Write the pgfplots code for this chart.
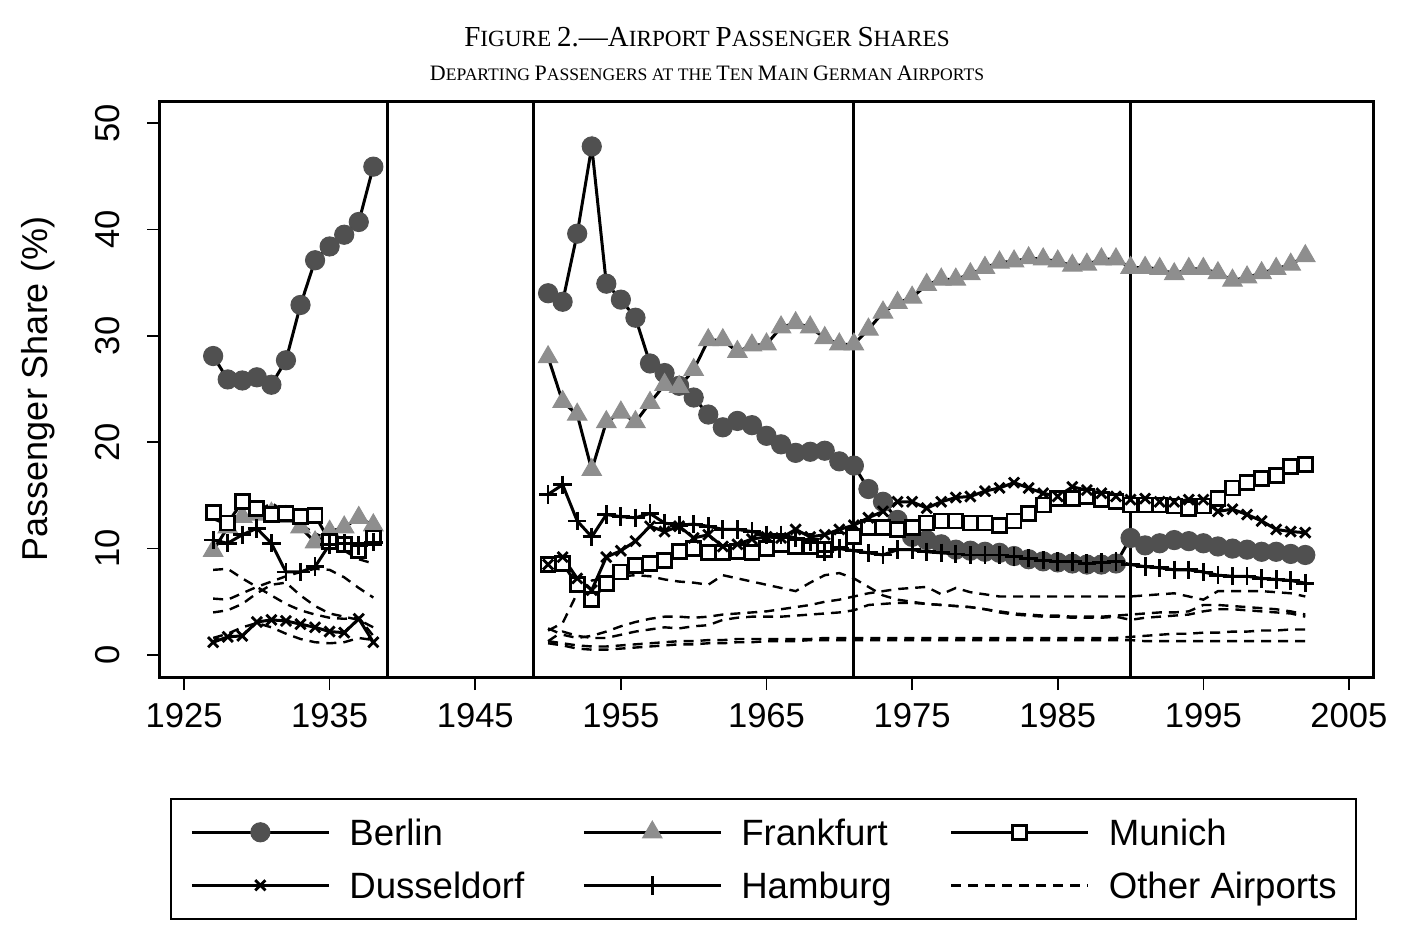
\documentclass[border=0pt]{standalone}
\usepackage{fontspec}
\setmainfont{Liberation Sans}
\newfontfamily\seriffont{Liberation Serif}
\usepackage{pgfplots}
\pgfplotsset{compat=1.18}
\definecolor{bgray}{HTML}{505050}
\definecolor{fgray}{HTML}{8E8E8E}
\begin{document}
\begin{tikzpicture}
\path[use as bounding box] (-80pt,-133.5pt) rectangle (627pt,338.5pt);
\begin{axis}[
  at={(0pt,0pt)}, anchor=south west,
  scale only axis, width=606.5pt, height=288pt,
  xmin=1923.35, xmax=2006.65, ymin=-2.07, ymax=52.07,
  xtick={1925,1935,...,2005}, ytick={0,10,...,50},
  tick align=outside, major tick length=6.5pt,
  xtick pos=left, ytick pos=left,
  tick style={line width=0.8pt, black},
  axis line style={line width=1.5pt},
  /pgf/number format/assume math mode=true,
  /pgf/number format/1000 sep={},
  ticklabel style={font=\fontsize{17.3}{17.3}\selectfont, inner sep=0pt},
  xticklabel shift=6.5pt,
  yticklabel style={rotate=90, anchor=south},
  yticklabel shift=13.5pt,
  unbounded coords=jump,
  legend columns=3,
  legend cell align=left,
  legend style={at={(0.5,0)}, anchor=north, yshift=-60.5pt, xshift=-1.5pt,
    draw=black, line width=1pt, fill=white,
    font=\fontsize{18.3}{18.3}\selectfont,
    inner xsep=9.5pt, inner ysep=10pt,
    row sep=13.2pt,
    nodes={inner sep=0pt, text height=13.3pt, text depth=0pt},
    /tikz/every even column/.append style={column sep=29pt},
    /tikz/every odd column/.append style={column sep=9.5pt}},
  legend image code/.code={\draw[mark repeat=2,mark phase=2,#1] plot coordinates {(0pt,0pt) (34.25pt,0pt) (68.5pt,0pt)};},
]
% Berlin
\addplot[black, line width=1.5pt, mark=*, mark size=4.8pt, mark options={fill=bgray, draw=bgray, line width=0.5pt}] coordinates {
(1927,28.1)(1928,25.9)(1929,25.8)(1930,26.1)(1931,25.4)(1932,27.7)(1933,32.9)(1934,37.1)(1935,38.4)(1936,39.5)(1937,40.7)(1938,45.9)
(1944,nan)
(1950,34.0)(1951,33.2)(1952,39.6)(1953,47.8)(1954,34.9)(1955,33.4)(1956,31.7)(1957,27.4)(1958,26.5)(1959,25.3)(1960,24.2)
(1961,22.6)(1962,21.4)(1963,22.0)(1964,21.6)(1965,20.6)(1966,19.8)(1967,19.0)(1968,19.1)(1969,19.2)(1970,18.2)
(1971,17.8)(1972,15.6)(1973,14.4)(1974,12.7)(1975,11.1)(1976,10.8)(1977,10.4)(1978,9.9)(1979,9.8)(1980,9.7)
(1981,9.6)(1982,9.3)(1983,9.0)(1984,8.8)(1985,8.7)(1986,8.6)(1987,8.5)(1988,8.5)(1989,8.6)(1990,11.0)
(1991,10.3)(1992,10.5)(1993,10.8)(1994,10.7)(1995,10.5)(1996,10.2)(1997,10.0)(1998,9.9)(1999,9.7)(2000,9.7)(2001,9.5)(2002,9.4)};
\addlegendentry{Berlin}
% Frankfurt
\addplot[black, line width=1.5pt, mark=triangle*, mark size=5.6pt, mark options={fill=fgray, draw=fgray, line width=0.5pt}] coordinates {
(1927,9.8)(1928,12.0)(1929,13.0)(1930,13.2)(1931,13.3)(1932,13.0)(1933,12.0)(1934,10.6)(1935,11.6)(1936,12.0)(1937,12.9)(1938,12.2)
(1944,nan)
(1950,28.0)(1951,23.8)(1952,22.6)(1953,17.4)(1954,21.9)(1955,22.8)(1956,21.9)(1957,23.7)(1958,25.4)(1959,25.2)(1960,26.8)
(1961,29.6)(1962,29.6)(1963,28.5)(1964,29.1)(1965,29.2)(1966,30.8)(1967,31.2)(1968,30.8)(1969,29.8)(1970,29.2)
(1971,29.2)(1972,30.6)(1973,32.2)(1974,33.1)(1975,33.6)(1976,34.8)(1977,35.3)(1978,35.3)(1979,35.8)(1980,36.4)
(1981,36.9)(1982,37.0)(1983,37.3)(1984,37.2)(1985,37.0)(1986,36.6)(1987,36.7)(1988,37.2)(1989,37.2)(1990,36.4)
(1991,36.4)(1992,36.3)(1993,35.8)(1994,36.3)(1995,36.3)(1996,35.9)(1997,35.2)(1998,35.5)(1999,35.9)(2000,36.3)(2001,36.7)(2002,37.5)};
\addlegendentry{Frankfurt}
% Munich
\addplot[black, line width=1.5pt, mark=square*, mark size=3.5pt, mark options={fill=white, draw=black, line width=1.4pt}] coordinates {
(1927,13.4)(1928,12.4)(1929,14.4)(1930,13.8)(1931,13.2)(1932,13.3)(1933,13.0)(1934,13.1)(1935,10.7)(1936,10.4)(1937,9.8)(1938,11.0)
(1944,nan)
(1950,8.5)(1951,8.6)(1952,6.6)(1953,5.2)(1954,6.7)(1955,7.8)(1956,8.4)(1957,8.6)(1958,8.9)(1959,9.7)(1960,10.0)
(1961,9.6)(1962,9.6)(1963,9.7)(1964,9.6)(1965,10.0)(1966,10.4)(1967,10.2)(1968,10.2)(1969,9.9)(1970,10.8)
(1971,11.1)(1972,12.0)(1973,12.0)(1974,11.8)(1975,12.0)(1976,12.4)(1977,12.6)(1978,12.6)(1979,12.4)(1980,12.4)
(1981,12.2)(1982,12.6)(1983,13.3)(1984,14.1)(1985,14.7)(1986,14.7)(1987,14.9)(1988,14.6)(1989,14.4)(1990,14.1)
(1991,14.1)(1992,14.1)(1993,14.0)(1994,13.8)(1995,14.0)(1996,14.7)(1997,15.7)(1998,16.2)(1999,16.6)(2000,16.9)(2001,17.7)(2002,17.9)};
\addlegendentry{Munich}
% Dusseldorf
\addplot[black, line width=1.5pt, mark=x, mark size=3.6pt, mark options={line width=1.4pt}] coordinates {
(1927,1.2)(1928,1.7)(1929,1.8)(1930,3.1)(1931,3.3)(1932,3.2)(1933,2.9)(1934,2.6)(1935,2.2)(1936,2.1)(1937,3.4)(1938,1.2)
(1944,nan)
(1950,8.5)(1951,9.2)(1952,7.2)(1953,6.1)(1954,9.2)(1955,9.8)(1956,10.7)(1957,12.1)(1958,11.6)(1959,12.1)(1960,11.0)
(1961,11.3)(1962,10.2)(1963,10.4)(1964,10.9)(1965,11.1)(1966,11.0)(1967,11.8)(1968,11.1)(1969,11.3)(1970,11.8)
(1971,12.2)(1972,12.9)(1973,13.5)(1974,14.4)(1975,14.4)(1976,13.8)(1977,14.4)(1978,14.8)(1979,14.9)(1980,15.4)
(1981,15.7)(1982,16.2)(1983,15.7)(1984,15.2)(1985,14.9)(1986,15.8)(1987,15.5)(1988,15.2)(1989,14.9)(1990,14.6)
(1991,14.7)(1992,14.4)(1993,14.4)(1994,14.6)(1995,14.6)(1996,13.5)(1997,13.7)(1998,13.2)(1999,12.6)(2000,11.8)(2001,11.6)(2002,11.5)};
\addlegendentry{Dusseldorf}
% Hamburg
\addplot[black, line width=1.5pt, mark=+, mark size=4.6pt, mark options={line width=1.4pt}] coordinates {
(1927,10.8)(1928,10.5)(1929,11.3)(1930,11.9)(1931,10.5)(1932,7.8)(1933,7.8)(1934,8.3)(1935,10.4)(1936,10.5)(1937,10.3)(1938,10.6)
(1944,nan)
(1950,15.1)(1951,16.0)(1952,12.6)(1953,11.1)(1954,13.2)(1955,13.0)(1956,12.9)(1957,13.3)(1958,12.4)(1959,12.2)(1960,12.3)
(1961,12.1)(1962,11.8)(1963,11.8)(1964,11.6)(1965,11.3)(1966,11.3)(1967,11.0)(1968,10.6)(1969,9.7)(1970,10.0)
(1971,9.8)(1972,9.6)(1973,9.4)(1974,9.9)(1975,9.9)(1976,9.7)(1977,9.6)(1978,9.5)(1979,9.4)(1980,9.4)
(1981,9.4)(1982,9.25)(1983,9.1)(1984,8.9)(1985,8.8)(1986,8.8)(1987,8.6)(1988,8.7)(1989,8.8)(1990,8.5)
(1991,8.3)(1992,8.2)(1993,8.0)(1994,8.0)(1995,7.8)(1996,7.5)(1997,7.4)(1998,7.4)(1999,7.2)(2000,7.1)(2001,7.0)(2002,6.75)};
\addlegendentry{Hamburg}
% Other airports
\addplot[black, line width=1.2pt, dash pattern=on 5pt off 3.5pt] coordinates {
(1927,8.0)(1928,8.1)(1929,7.2)(1930,6.4)(1931,5.6)(1932,4.8)(1933,4.2)(1934,3.8)(1935,3.5)(1936,3.4)(1937,3.5)(1938,1.8)
(1944,nan)
(1950,2.3)(1951,3.0)(1952,5.8)(1953,7.0)(1954,7.2)(1955,7.4)(1956,7.5)(1957,7.4)(1958,7.1)(1959,6.9)(1960,6.8)
(1961,6.6)(1962,7.5)(1963,7.2)(1964,6.9)(1965,6.6)(1966,6.3)(1967,6.0)(1968,6.8)(1969,7.5)(1970,7.7)
(1971,7.2)(1972,6.4)(1973,5.6)(1974,5.2)(1975,5.0)(1976,4.8)(1977,4.7)(1978,4.6)(1979,4.5)(1980,4.3)
(1981,4.0)(1982,3.8)(1983,3.7)(1984,3.6)(1985,3.6)(1986,3.5)(1987,3.5)(1988,3.5)(1989,3.6)(1990,3.3)
(1991,3.5)(1992,3.6)(1993,3.7)(1994,3.8)(1995,4.1)(1996,4.3)(1997,4.3)(1998,4.2)(1999,4.1)(2000,4.0)(2001,3.9)(2002,3.6)};
\addlegendentry{Other Airports}
\addplot[black, line width=1.2pt, dash pattern=on 5pt off 3.5pt, forget plot] coordinates {
(1927,5.3)(1928,5.2)(1929,5.8)(1930,6.4)(1931,6.9)(1932,7.4)(1933,7.8)(1934,8.1)(1935,8.0)(1936,7.3)(1937,6.3)(1938,5.4)
(1944,nan)
(1950,2.5)(1951,1.9)(1952,1.6)(1953,1.8)(1954,2.2)(1955,2.7)(1956,3.1)(1957,3.4)(1958,3.6)(1959,3.6)(1960,3.5)
(1961,3.6)(1962,3.8)(1963,3.9)(1964,4.0)(1965,4.1)(1966,4.3)(1967,4.5)(1968,4.7)(1969,5.0)(1970,5.2)
(1971,5.5)(1972,5.8)(1973,6.0)(1974,6.2)(1975,6.3)(1976,6.4)(1977,5.7)(1978,6.3)(1979,5.9)(1980,5.7)
(1981,5.5)(1982,5.5)(1983,5.5)(1984,5.5)(1985,5.5)(1986,5.5)(1987,5.5)(1988,5.5)(1989,5.5)(1990,5.5)
(1991,5.6)(1992,5.7)(1993,5.8)(1994,5.5)(1995,5.2)(1996,6.0)(1997,6.0)(1998,6.0)(1999,6.0)(2000,5.9)(2001,5.8)(2002,5.5)};
\addplot[black, line width=1.2pt, dash pattern=on 5pt off 3.5pt, forget plot] coordinates {
(1927,4.0)(1928,4.2)(1929,4.8)(1930,5.8)(1931,6.6)(1932,6.8)(1933,5.6)(1934,4.6)(1935,3.9)(1936,3.6)(1937,3.3)(1938,2.6)
(1944,nan)
(1950,1.3)(1951,2.2)(1952,1.8)(1953,1.6)(1954,1.6)(1955,1.9)(1956,2.2)(1957,2.4)(1958,2.6)(1959,2.5)(1960,2.7)
(1961,2.8)(1962,3.3)(1963,3.5)(1964,3.6)(1965,3.6)(1966,3.6)(1967,3.7)(1968,3.8)(1969,3.9)(1970,4.0)
(1971,4.2)(1972,4.7)(1973,4.8)(1974,4.9)(1975,4.9)(1976,4.8)(1977,4.7)(1978,4.6)(1979,4.5)(1980,4.3)
(1981,4.1)(1982,3.9)(1983,3.8)(1984,3.7)(1985,3.7)(1986,3.6)(1987,3.6)(1988,3.6)(1989,3.7)(1990,3.8)
(1991,3.9)(1992,4.0)(1993,4.0)(1994,4.1)(1995,4.7)(1996,4.7)(1997,4.6)(1998,4.5)(1999,4.4)(2000,4.3)(2001,4.1)(2002,3.8)};
\addplot[black, line width=1.2pt, dash pattern=on 5pt off 3.5pt, forget plot] coordinates {
(1927,12.8)(1928,12.2)(1929,12.8)(1930,13.4)(1931,14.3)(1932,13.4)(1933,12.3)(1934,11.4)(1935,10.9)(1936,9.8)(1937,9.0)(1938,8.6)
(1944,nan)
(1950,1.3)(1951,1.1)(1952,0.9)(1953,0.8)(1954,0.8)(1955,0.9)(1956,1.0)(1957,1.1)(1958,1.2)(1959,1.3)(1960,1.3)
(1961,1.4)(1962,1.4)(1963,1.5)(1964,1.5)(1965,1.5)(1966,1.5)(1967,1.5)(1968,1.5)(1969,1.6)(1970,1.6)
(1971,1.6)(1972,1.6)(1973,1.6)(1974,1.6)(1975,1.6)(1976,1.6)(1977,1.6)(1978,1.6)(1979,1.6)(1980,1.6)
(1981,1.6)(1982,1.6)(1983,1.6)(1984,1.6)(1985,1.6)(1986,1.6)(1987,1.6)(1988,1.6)(1989,1.6)(1990,1.7)
(1991,1.8)(1992,1.9)(1993,2.0)(1994,2.0)(1995,2.1)(1996,2.1)(1997,2.2)(1998,2.2)(1999,2.3)(2000,2.3)(2001,2.4)(2002,2.4)};
\addplot[black, line width=1.2pt, dash pattern=on 5pt off 3.5pt, forget plot] coordinates {
(1927,1.6)(1928,2.0)(1929,2.6)(1930,3.0)(1931,2.6)(1932,2.0)(1933,1.5)(1934,1.2)(1935,1.1)(1936,1.2)(1937,1.6)(1938,1.4)
(1944,nan)
(1950,1.1)(1951,0.9)(1952,0.6)(1953,0.5)(1954,0.5)(1955,0.6)(1956,0.7)(1957,0.8)(1958,0.9)(1959,1.0)(1960,1.0)
(1961,1.1)(1962,1.1)(1963,1.2)(1964,1.2)(1965,1.3)(1966,1.3)(1967,1.3)(1968,1.4)(1969,1.4)(1970,1.4)
(1971,1.4)(1972,1.4)(1973,1.4)(1974,1.4)(1975,1.4)(1976,1.4)(1977,1.4)(1978,1.4)(1979,1.4)(1980,1.4)
(1981,1.4)(1982,1.4)(1983,1.4)(1984,1.4)(1985,1.4)(1986,1.4)(1987,1.4)(1988,1.4)(1989,1.4)(1990,1.4)
(1991,1.3)(1992,1.3)(1993,1.3)(1994,1.3)(1995,1.3)(1996,1.3)(1997,1.3)(1998,1.3)(1999,1.3)(2000,1.3)(2001,1.3)(2002,1.3)};
% vertical period lines
\draw[line width=1.5pt] (axis cs:1939,-2.07) -- (axis cs:1939,52.07);
\draw[line width=1.5pt] (axis cs:1949,-2.07) -- (axis cs:1949,52.07);
\draw[line width=1.5pt] (axis cs:1971,-2.07) -- (axis cs:1971,52.07);
\draw[line width=1.5pt] (axis cs:1990,-2.07) -- (axis cs:1990,52.07);
\end{axis}
\node[rotate=90, font=\fontsize{18}{18}\selectfont] at (-61pt,144pt) {Passenger Share (\%)};
\node[anchor=base, font=\seriffont] at (273.5pt,315pt) {\fontsize{14.5}{17}\selectfont F\fontsize{11.6}{14}\selectfont IGURE \fontsize{14.5}{17}\selectfont 2.—A\fontsize{11.6}{14}\selectfont IRPORT \fontsize{14.5}{17}\selectfont P\fontsize{11.6}{14}\selectfont ASSENGER \fontsize{14.5}{17}\selectfont S\fontsize{11.6}{14}\selectfont HARES};
\node[anchor=base, font=\seriffont] at (273.5pt,298pt) {\fontsize{11}{13}\selectfont D\fontsize{8.8}{11}\selectfont EPARTING \fontsize{11}{13}\selectfont P\fontsize{8.8}{11}\selectfont ASSENGERS AT THE \fontsize{11}{13}\selectfont T\fontsize{8.8}{11}\selectfont EN \fontsize{11}{13}\selectfont M\fontsize{8.8}{11}\selectfont AIN \fontsize{11}{13}\selectfont G\fontsize{8.8}{11}\selectfont ERMAN \fontsize{11}{13}\selectfont A\fontsize{8.8}{11}\selectfont IRPORTS};
\end{tikzpicture}
\end{document}
